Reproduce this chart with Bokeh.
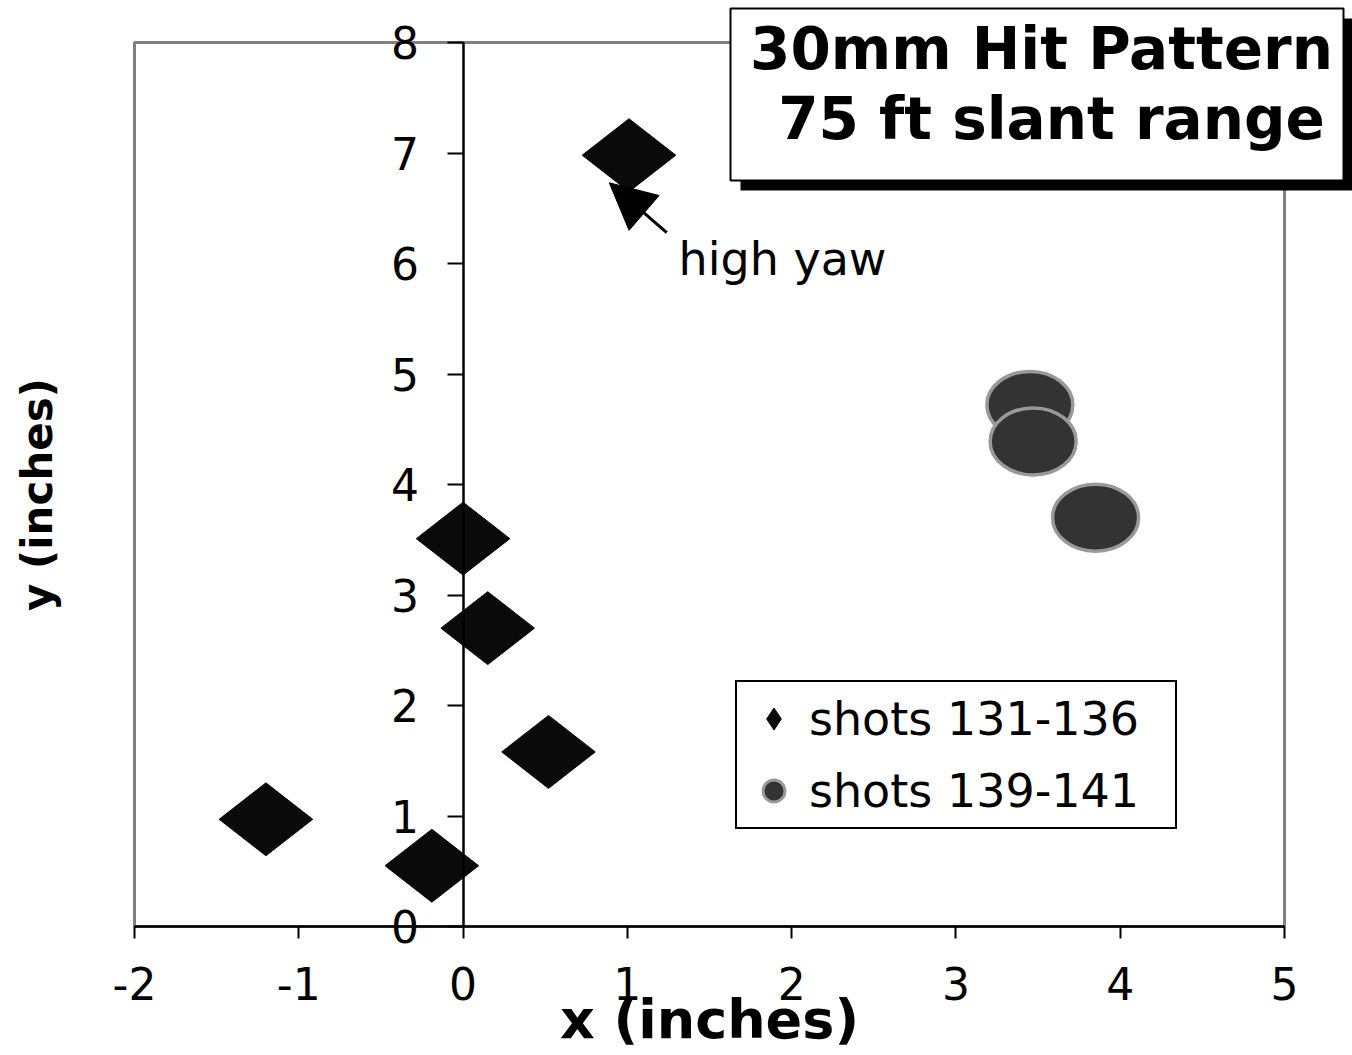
import math
from bokeh.plotting import figure
from bokeh.models import (Range1d, FixedTicker, Legend, LegendItem, Label, PrintfTickFormatter,
                          Arrow, NormalHead, BoxAnnotation, ColumnDataSource)
from bokeh.embed import file_html
from bokeh.resources import INLINE

# ---- data ----
shots_a_x = [1.01, 0.0, 0.15, 0.52, -1.20, -0.19]
shots_a_y = [6.98, 3.51, 2.70, 1.58, 0.97, 0.55]
shots_b_x = [3.45, 3.47, 3.85]
shots_b_y = [4.72, 4.39, 3.70]
series_labels = ["shots 131-136", "shots 139-141"]
x_ticks = [-2, -1, 0, 1, 2, 3, 4, 5]
y_ticks = [0, 1, 2, 3, 4, 5, 6, 7, 8]
title_lines = ["30mm Hit Pattern", "75 ft slant range"]
note_text = "high yaw"
x_label = "x (inches)"
y_label = "y (inches)"

FONT = "DejaVu Sans"

# ---- layout: data area occupies canvas px 134..1284 (x) and 42..926 (y) ----
W, H = 1352, 1055
X0, X1, Y0, Y1 = -2, 5, 0, 8
PL, PR, PT, PB = 134, 68, 42, 129
KX = (W - PL - PR) / (X1 - X0)
KY = (H - PT - PB) / (Y1 - Y0)

p = figure(width=W, height=H, output_backend="svg", toolbar_location=None,
           x_range=Range1d(X0 - PL / KX, X1 + PR / KX),
           y_range=Range1d(Y0 - PB / KY, Y1 + PT / KY),
           min_border_left=0, min_border_right=0, min_border_top=0, min_border_bottom=0)
p.background_fill_color = "white"
p.border_fill_color = "white"
p.outline_line_color = None
p.grid.visible = False

# plot-area frame (gray)
p.add_layout(BoxAnnotation(left=X0, right=X1, bottom=Y0, top=Y1, fill_alpha=0,
                           line_color="#808080", line_width=3, line_alpha=1, level="underlay"))

# x axis
xa = p.xaxis[0]
xa.fixed_location = 0
xa.bounds = (X0, X1)
xa.ticker = FixedTicker(ticks=x_ticks)
xa.formatter = PrintfTickFormatter(format="%d")
xa.minor_tick_line_color = None
xa.major_tick_out = 12
xa.major_tick_in = 0
xa.major_tick_line_width = 2
xa.axis_line_width = 2.5
xa.axis_line_color = "black"
xa.major_label_text_font = FONT
xa.major_label_text_font_size = "44px"
xa.major_label_text_color = "black"
xa.major_label_standoff = 28
xa.axis_label = x_label
xa.axis_label_text_font = FONT
xa.axis_label_text_font_style = "bold"
xa.axis_label_text_font_size = "54px"
xa.axis_label_text_color = "black"
xa.axis_label_standoff = -15

# y axis at x = 0
ya = p.yaxis[0]
ya.fixed_location = 0
ya.bounds = (Y0, Y1)
ya.ticker = FixedTicker(ticks=y_ticks)
ya.formatter = PrintfTickFormatter(format="%d")
ya.minor_tick_line_color = None
ya.major_tick_out = 16
ya.major_tick_in = 0
ya.major_tick_line_width = 2
ya.axis_line_width = 2.5
ya.axis_line_color = "black"
ya.major_label_text_font = FONT
ya.major_label_text_font_size = "44px"
ya.major_label_text_color = "black"
ya.major_label_standoff = 28

p.add_layout(Label(x=37, y=494, x_units="canvas", y_units="canvas", text=y_label,
                   angle=math.pi / 2, text_align="center", text_baseline="middle",
                   text_font=FONT, text_font_style="bold", text_font_size="42px",
                   text_color="black"))

# ---- marks ----
# legend-proxy markers (hidden under the real marks)
r_a_leg = p.scatter(shots_a_x, shots_a_y, marker="diamond", angle=math.pi / 2, size=86,
                    fill_color="#0a0a0a", line_color="#0a0a0a")
r_b_leg = p.scatter(shots_b_x, shots_b_y, marker="circle", size=60,
                    fill_color="#333333", line_color="#999999", line_width=3)

# wide diamonds (half sizes in data units, style constants)
HW, HH = 0.285, 0.33
src_a = ColumnDataSource(dict(
    xs=[[x - HW, x, x + HW, x] for x in shots_a_x],
    ys=[[y, y + HH, y, y - HH] for y in shots_a_y],
))
p.patches("xs", "ys", source=src_a, fill_color="#0a0a0a", line_color="#0a0a0a", line_width=1)

p.ellipse(x=shots_b_x, y=shots_b_y, width=86, height=67, width_units="screen",
          height_units="screen", fill_color="#333333", line_color="#999999", line_width=3.5)

# ---- legend ----
legend = Legend(items=[LegendItem(label=series_labels[0], renderers=[r_a_leg]),
                       LegendItem(label=series_labels[1], renderers=[r_b_leg])],
                location=(735, H - 829), orientation="vertical",
                glyph_width=55, glyph_height=55, label_height=55, label_width=357,
                spacing=17, padding=9, label_standoff=8, margin=0,
                label_text_font=FONT, label_text_font_size="46px", label_text_color="black",
                border_line_color="black", border_line_width=2, border_line_alpha=1,
                background_fill_color="white", background_fill_alpha=1)
p.add_layout(legend)

# ---- annotation arrow + note ----
p.add_layout(Arrow(x_start=1.24, y_start=6.28, x_end=0.89, y_end=6.73, line_width=3,
                   line_color="black",
                   end=NormalHead(size=46, fill_color="black", line_color="black")))
p.add_layout(Label(x=678, y=258, x_units="canvas", y_units="canvas", text=note_text,
                   text_font=FONT, text_font_size="46px",
                   text_color="black", text_baseline="middle", text_align="left"))

# ---- title box with shadow ----
p.add_layout(BoxAnnotation(left=740, right=1352, top=18, bottom=190,
                           left_units="canvas", right_units="canvas",
                           top_units="canvas", bottom_units="canvas",
                           fill_color="black", fill_alpha=1, line_color=None))
p.add_layout(BoxAnnotation(left=730, right=1343, top=8, bottom=180,
                           left_units="canvas", right_units="canvas",
                           top_units="canvas", bottom_units="canvas",
                           fill_color="white", fill_alpha=1, line_color="black", line_width=2,
                           line_alpha=1))
p.add_layout(Label(x=1041, y=48, x_units="canvas", y_units="canvas", text=title_lines[0],
                   text_font=FONT, text_font_style="bold", text_font_size="58px",
                   text_color="black", text_align="center", text_baseline="middle"))
p.add_layout(Label(x=1051, y=118, x_units="canvas", y_units="canvas", text=title_lines[1],
                   text_font=FONT, text_font_style="bold", text_font_size="58px",
                   text_color="black", text_align="center", text_baseline="middle"))

open("out.html", "w").write(file_html(p, INLINE))
